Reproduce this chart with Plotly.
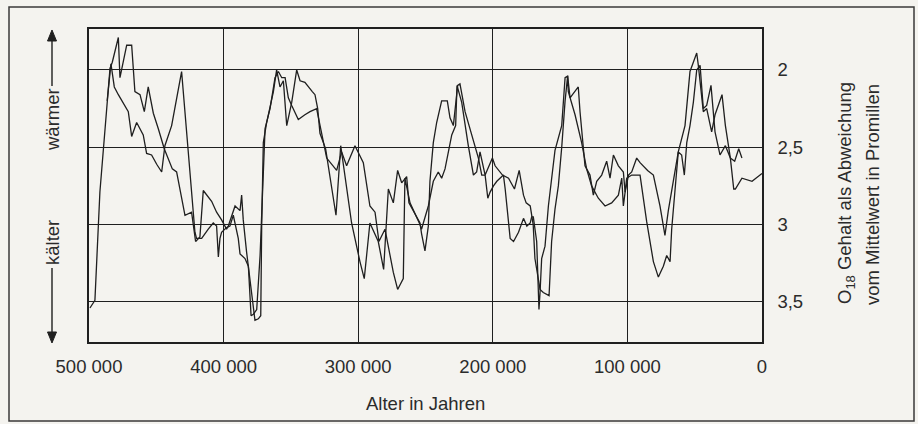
import plotly.graph_objects as go

# ---- data (age in thousand years before present, O18 value) ----
age_a_kyr = [499.3, 495.6, 491.9, 488.1, 484.4, 482.7, 478.2, 477.0, 472.0, 468.3, 465.9, 462.1,
             458.9, 456.0, 452.2, 448.5, 444.1, 438.1, 434.9, 428.7, 423.8, 420.8, 417.6, 415.1,
             408.9, 405.2, 401.5, 397.8, 396.5, 391.5, 387.8, 386.6, 385.4, 382.9, 380.4, 377.9,
             376.7, 374.2, 372.4, 371.7, 370.5, 368.0, 363.0, 360.6, 358.1, 355.6, 353.1, 349.4,
             345.7, 343.2, 339.6, 334.1, 332.1, 330.1, 328.4, 324.2, 316.5, 313.0, 304.9, 298.7,
             295.5, 291.3, 285.1, 281.1, 277.6, 273.9, 270.7, 267.7, 264.0, 262.3, 254.1, 252.9,
             250.4, 247.9, 246.7, 244.2, 241.7, 238.0, 233.8, 231.8, 229.3, 226.1, 224.4, 220.6,
             215.7, 213.2, 210.7, 208.2, 205.7, 203.7, 202.0, 199.5, 197.0, 192.1, 190.8, 187.1,
             184.6, 180.9, 177.2, 174.7, 172.2, 171.1, 169.9, 167.4, 165.7, 164.9, 163.7, 161.2,
             158.7, 153.8, 148.8, 146.3, 144.4, 142.6, 138.9, 136.5, 135.2, 131.5, 127.8, 125.3,
             122.8, 119.1, 115.4, 112.9, 110.4, 106.7, 103.0, 101.7, 99.2, 96.8, 93.1, 90.6,
             85.0, 80.7, 75.8, 72.1, 69.6, 67.1, 62.2, 59.7, 57.7, 55.9, 53.5, 51.0,
             48.5, 46.0, 43.6, 41.1, 37.9, 34.9, 31.2, 27.2, 23.5, 20.3, 17.3, 14.9]
o18_a = [3.54, 3.49, 2.79, 2.36, 1.99, 1.95, 1.79, 2.05, 1.84, 1.84, 2.14, 2.16,
         2.27, 2.11, 2.28, 2.38, 2.51, 2.64, 2.66, 2.94, 2.92, 3.11, 3.08, 2.78,
         2.85, 2.92, 2.97, 3.03, 3.01, 2.88, 2.91, 2.81, 2.97, 3.18, 3.35, 3.55,
         3.62, 3.61, 3.59, 3.01, 2.47, 2.34, 2.14, 2.00, 2.11, 2.07, 2.36, 2.21,
         2.00, 2.07, 2.08, 2.14, 2.16, 2.25, 2.41, 2.51, 2.94, 2.49, 2.99, 3.24,
         3.35, 2.99, 3.11, 3.29, 2.77, 2.86, 2.65, 2.73, 2.69, 2.86, 2.99, 3.06,
         3.17, 3.01, 2.72, 2.47, 2.34, 2.20, 2.20, 2.31, 2.36, 2.10, 2.09, 2.27,
         2.42, 2.49, 2.57, 2.68, 2.68, 2.83, 2.79, 2.75, 2.72, 2.68, 2.77, 3.09,
         3.11, 3.05, 2.96, 3.01, 2.99, 2.95, 2.95, 3.11, 3.55, 3.44, 3.22, 3.14,
         2.88, 2.52, 2.36, 2.05, 2.04, 2.18, 2.14, 2.11, 2.27, 2.62, 2.68, 2.81,
         2.72, 2.68, 2.59, 2.70, 2.55, 2.62, 2.66, 2.79, 2.68, 2.66, 2.57, 2.60,
         2.65, 2.68, 2.88, 3.07, 2.91, 2.79, 2.53, 2.55, 2.68, 2.47, 2.36, 2.21,
         2.00, 1.97, 2.25, 2.23, 2.10, 2.40, 2.55, 2.49, 2.57, 2.59, 2.51, 2.57]

age_b_kyr = [486.5, 483.7, 481.2, 478.2, 470.8, 468.3, 464.6, 462.1, 459.7, 457.2, 453.5, 449.7,
             446.0, 443.6, 438.6, 431.2, 428.7, 425.0, 421.3, 420.1, 416.3, 411.4, 407.7, 405.2,
             403.9, 402.7, 401.5, 397.8, 395.3, 392.8, 389.1, 387.8, 384.1, 381.6, 379.6, 377.9,
             375.4, 372.9, 369.2, 365.5, 361.8, 359.3, 356.8, 354.3, 351.9, 349.4, 344.5, 339.6,
             335.8, 330.9, 327.2, 323.4, 316.0, 312.3, 308.6, 302.4, 296.2, 291.3, 287.5, 284.6,
             280.1, 273.9, 270.7, 266.5, 265.3, 261.5, 254.1, 252.9, 251.6, 247.9, 244.2, 240.5,
             238.0, 235.5, 230.5, 227.6, 226.6, 223.1, 218.2, 214.4, 212.0, 209.5, 205.7, 202.8,
             200.3, 198.3, 195.8, 192.8, 188.3, 183.9, 180.4, 177.2, 175.2, 172.2, 170.0, 168.7,
             164.9, 162.5, 158.2, 156.3, 153.8, 151.3, 148.8, 146.3, 144.4, 143.9, 138.9, 134.0,
             130.3, 126.6, 121.6, 116.6, 111.7, 106.7, 104.2, 103.0, 101.7, 100.5, 96.8, 94.4,
             90.6, 85.7, 80.7, 77.0, 73.3, 70.8, 68.3, 67.1, 64.6, 62.2, 57.2, 53.5,
             51.0, 48.5, 47.3, 43.6, 41.1, 37.4, 34.9, 29.7, 27.2, 23.5, 21.0, 19.8,
             14.9, 7.4, 0.0]
o18_b = [2.20, 1.96, 2.11, 2.16, 2.27, 2.43, 2.34, 2.38, 2.42, 2.54, 2.55, 2.61,
         2.66, 2.49, 2.36, 2.01, 2.27, 2.68, 3.05, 3.09, 3.09, 3.03, 2.99, 3.01,
         3.21, 3.09, 3.05, 3.02, 3.01, 2.94, 3.09, 3.19, 3.22, 3.27, 3.59, 3.58,
         3.55, 3.20, 2.38, 2.25, 2.05, 2.01, 2.05, 2.05, 2.18, 2.23, 2.32, 2.29,
         2.27, 2.25, 2.42, 2.57, 2.65, 2.53, 2.62, 2.49, 2.60, 2.88, 2.92, 3.11,
         3.03, 3.31, 3.42, 3.35, 2.70, 2.86, 3.00, 3.03, 2.99, 2.88, 2.72, 2.66,
         2.70, 2.64, 2.42, 2.36, 2.10, 2.21, 2.49, 2.68, 2.66, 2.53, 2.68, 2.62,
         2.57, 2.62, 2.65, 2.68, 2.70, 2.77, 2.65, 2.81, 2.86, 2.88, 3.00, 3.22,
         3.42, 3.44, 3.46, 3.11, 2.90, 2.75, 2.50, 2.20, 2.04, 2.14, 2.29, 2.47,
         2.64, 2.75, 2.83, 2.88, 2.86, 2.81, 2.70, 2.88, 2.79, 2.70, 2.68, 2.68,
         2.68, 2.98, 3.24, 3.34, 3.27, 3.20, 3.24, 3.03, 2.75, 2.53, 2.36, 2.01,
         1.95, 1.89, 1.97, 2.27, 2.25, 2.40, 2.29, 2.16, 2.36, 2.57, 2.77, 2.77,
         2.70, 2.72, 2.67]

x_ticks = [500000, 400000, 300000, 200000, 100000, 0]
x_tick_labels = ["500 000", "400 000", "300 000", "200 000", "100 000", "0"]
y_ticks = [2, 2.5, 3, 3.5]
y_tick_labels = ["2", "2,5", "3", "3,5"]

BG = "#f4f3ef"
INK = "#1f1f1f"
TXT = "#2b2b2b"
FONT = "Liberation Sans, Arial, Helvetica, sans-serif"
FS = 18.5

# layout geometry (pixels)
W, H = 918, 424
L, R, T, B = 89, 762, 29, 342
pw, ph = R - L, B - T


def px(x):
    return (x - L) / pw


def py(y):
    return (B - y) / ph


fig = go.Figure()
for ages, vals in ((age_a_kyr, o18_a), (age_b_kyr, o18_b)):
    fig.add_trace(go.Scatter(
        x=[a * 1000 for a in ages], y=vals, mode="lines",
        line=dict(color=INK, width=1.3), hoverinfo="skip"))

fig.update_layout(
    width=W, height=H,
    margin=dict(l=L, r=W - R, t=T, b=H - B),
    paper_bgcolor=BG, plot_bgcolor=BG,
    showlegend=False,
    font=dict(family=FONT, size=FS, color=TXT),
)
fig.update_xaxes(
    range=[500000, 0], tickvals=x_ticks, ticktext=x_tick_labels,
    showgrid=True, gridcolor=INK, gridwidth=1.2, zeroline=False,
    showline=True, linecolor=INK, linewidth=1.5, mirror=True,
    ticks="", ticklabelstandoff=7,
)
fig.update_yaxes(
    range=[3.76, 1.735], side="right", tickvals=y_ticks, ticktext=y_tick_labels,
    showgrid=True, gridcolor=INK, gridwidth=1.2, zeroline=False,
    showline=True, linecolor=INK, linewidth=1.5, mirror=True,
    ticks="", ticklabelstandoff=10,
)

ann = []
ann.append(dict(text="Alter in Jahren", xref="paper", yref="paper",
                x=0.5, y=py(404), xanchor="center", yanchor="middle", showarrow=False))
ann.append(dict(text="O<sub>18</sub> Gehalt als Abweichung", xref="paper", yref="paper",
                x=px(846), y=py(193), xanchor="center", yanchor="middle",
                textangle=-90, showarrow=False))
ann.append(dict(text="vom Mittelwert in Promillen", xref="paper", yref="paper",
                x=px(872), y=py(195), xanchor="center", yanchor="middle",
                textangle=-90, showarrow=False))
ann.append(dict(text="wärmer", xref="paper", yref="paper",
                x=px(52), y=py(120), xanchor="center", yanchor="middle",
                textangle=-90, showarrow=False))
ann.append(dict(text="kälter", xref="paper", yref="paper",
                x=px(52), y=py(243), xanchor="center", yanchor="middle",
                textangle=-90, showarrow=False))
fig.update_layout(annotations=ann)

# arrows beside the left side: shaft lines + filled heads
AX = 52
for y0, y1 in ((41, 86), (268, 332)):
    fig.add_shape(type="line", xref="paper", yref="paper",
                  x0=px(AX), x1=px(AX), y0=py(y0), y1=py(y1),
                  line=dict(color=INK, width=1.4))
for tip, base in ((30, 41), (343, 332)):
    path = "M {:.5f} {:.5f} L {:.5f} {:.5f} L {:.5f} {:.5f} Z".format(
        px(AX), py(tip), px(AX - 4.5), py(base), px(AX + 4.5), py(base))
    fig.add_shape(type="path", xref="paper", yref="paper", path=path,
                  fillcolor=INK, line=dict(color=INK, width=1))

# outer frame
fig.add_shape(type="rect", xref="paper", yref="paper",
              x0=px(9), x1=px(914), y0=py(421), y1=py(7),
              line=dict(color="#3a3a3a", width=1.5), fillcolor="rgba(0,0,0,0)", layer="below")

fig.write_html("out.html", config={"displayModeBar": False},
               post_script="document.body.style.margin='0';document.body.style.background='" + BG + "';")
